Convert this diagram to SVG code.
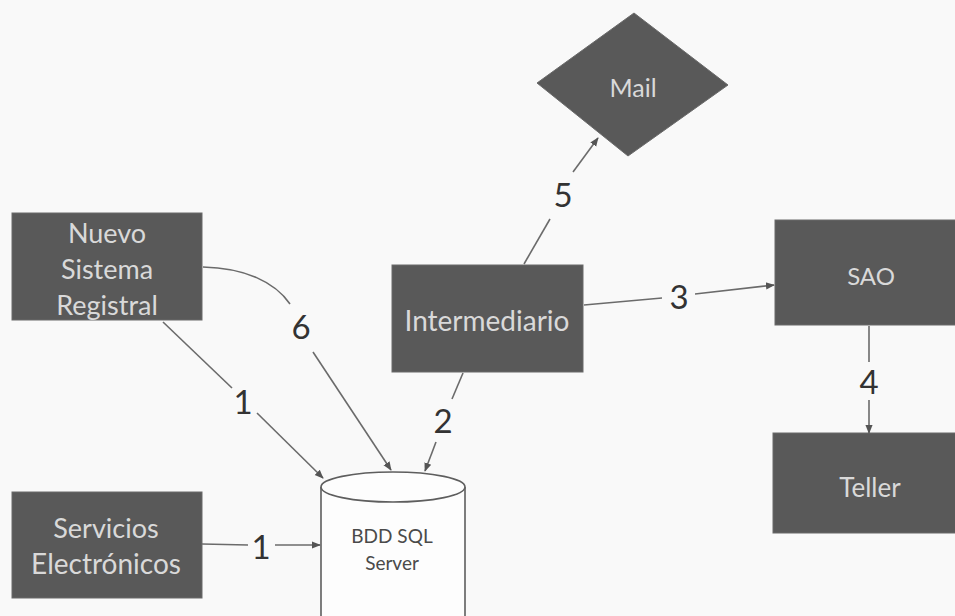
<svg xmlns="http://www.w3.org/2000/svg" width="955" height="616" viewBox="0 0 955 616">
<style>
.box{fill:#595959;stroke:#6a6a6a;stroke-width:1}
.bt{font-family:Lato,"Open Sans","Liberation Sans",sans-serif;fill:#d9d9d9;text-anchor:middle;dominant-baseline:central}
.lbl{font-family:Lato,"Open Sans","Liberation Sans",sans-serif;fill:#333;font-size:33px;text-anchor:middle;dominant-baseline:central}
.ln{fill:none;stroke:#6b6b6b;stroke-width:1.6}
.db{fill:#fdfdfd;stroke:#5e5e5e;stroke-width:1.6}
.dt{font-family:Lato,"Open Sans","Liberation Sans",sans-serif;font-size:19px;fill:#4a4a4a;text-anchor:middle;dominant-baseline:central}
</style>
<defs>
<marker id="ah" viewBox="0 0 10 10" refX="9" refY="5" markerWidth="9" markerHeight="9" markerUnits="userSpaceOnUse" orient="auto">
<path d="M0,1 L10,5 L0,9 z" fill="#555"/>
</marker>
</defs>
<rect width="955" height="616" fill="#f9f9f9"/>
<g id="mail">
<polygon class="box" points="634,13 728,85 628,156 537,83"/>
<text class="bt" x="633" y="87" font-size="25">Mail</text>
</g>
<g id="nuevo">
<rect class="box" x="12" y="213" width="190" height="107"/>
<text class="bt" x="107" y="232" font-size="27">Nuevo</text>
<text class="bt" x="107" y="268" font-size="27">Sistema</text>
<text class="bt" x="107" y="304" font-size="27">Registral</text>
</g>
<g id="intermediario">
<rect class="box" x="392" y="265" width="191" height="107"/>
<text class="bt" x="487" y="320" font-size="28">Intermediario</text>
</g>
<g id="sao">
<rect class="box" x="775" y="220" width="185" height="105"/>
<text class="bt" x="871" y="275" font-size="24">SAO</text>
</g>
<g id="teller">
<rect class="box" x="773" y="433" width="187" height="100"/>
<text class="bt" x="870" y="487" font-size="26">Teller</text>
</g>
<g id="servicios">
<rect class="box" x="12" y="492" width="190" height="106"/>
<text class="bt" x="106" y="527" font-size="27">Servicios</text>
<text class="bt" x="106" y="563" font-size="28">Electrónicos</text>
</g>
<g id="bdd">
<path class="db" d="M321,487 L321,630 L465,630 L465,487"/>
<ellipse class="db" cx="393" cy="487" rx="72" ry="15"/>
<text class="dt" x="392" y="535">BDD SQL</text>
<text class="dt" x="392" y="562">Server</text>
</g>
<g id="connectors">
<path class="ln" d="M163,322 L232,388"/>
<path class="ln" d="M257,413 L323,478" marker-end="url(#ah)"/>
<text class="lbl" x="243" y="401">1</text>
<path class="ln" d="M203,267 C245,268 275,282 290,304"/>
<path class="ln" d="M313,352 L391,470" marker-end="url(#ah)"/>
<text class="lbl" x="301" y="326">6</text>
<path class="ln" d="M463,373 L452,399"/>
<path class="ln" d="M436,442 L425,471" marker-end="url(#ah)"/>
<text class="lbl" x="443" y="420">2</text>
<path class="ln" d="M524,264 L550,219"/>
<path class="ln" d="M573,172 L598,138" marker-end="url(#ah)"/>
<text class="lbl" x="563" y="194">5</text>
<path class="ln" d="M584,305 L662,298"/>
<path class="ln" d="M695,294 L774,285" marker-end="url(#ah)"/>
<text class="lbl" x="679" y="296">3</text>
<path class="ln" d="M869,326 L869,362"/>
<path class="ln" d="M869,400 L869,433" marker-end="url(#ah)"/>
<text class="lbl" x="869" y="381">4</text>
<path class="ln" d="M202,544 L248,545"/>
<path class="ln" d="M275,545 L320,545" marker-end="url(#ah)"/>
<text class="lbl" x="261" y="546">1</text>
</g>
</svg>
